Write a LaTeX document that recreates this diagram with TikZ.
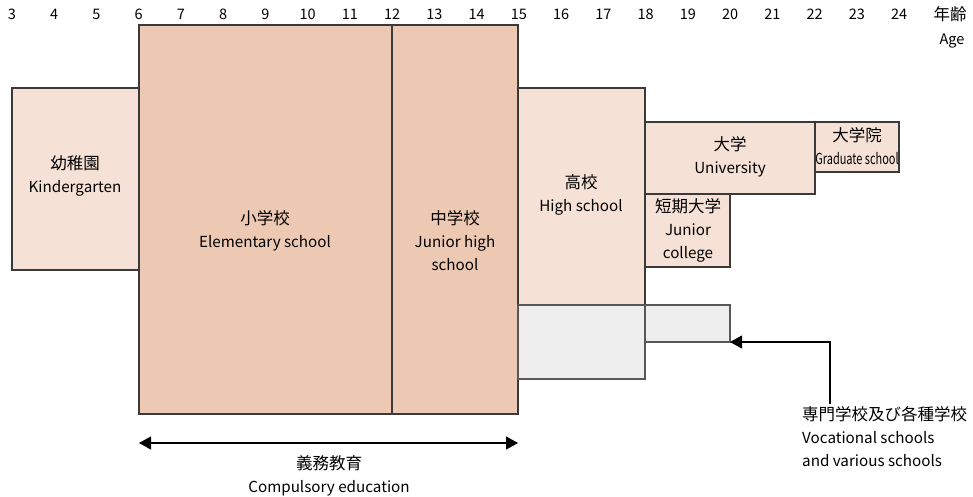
\documentclass[tikz,border=0pt]{standalone}
\usepackage{fontspec}
\usepackage{graphicx}
\setmainfont{Noto Sans CJK JP}
\usetikzlibrary{arrows.meta}
\definecolor{lightpeach}{HTML}{F6E1D6}
\definecolor{darkpeach}{HTML}{EDC9B3}
\definecolor{greybox}{HTML}{EEEEEE}
\definecolor{edge}{HTML}{3A3A3A}
\newcommand\jpsz{\fontsize{16.5}{23}\selectfont}
\tikzset{
  box/.style={draw=edge, line width=1.1pt, anchor=north west, inner sep=0pt, outer sep=0pt},
  light/.style={box, fill=lightpeach},
  dark/.style={box, fill=darkpeach},
  grey/.style={box, fill=greybox, draw=edge!85},
  lbl/.style={align=center, inner sep=0pt, font=\fontsize{15.2}{23}\selectfont},
  agelbl/.style={inner sep=0pt, font=\fontsize{14.5}{18}\selectfont},
  conn/.style={line width=1.1pt, draw=black},
  tip/.style={-{Triangle[length=12pt,width=13pt]}},
  bitip/.style={{Triangle[length=12pt,width=13pt]}-{Triangle[length=12pt,width=13pt]}}
}
\begin{document}
\begin{tikzpicture}[x=1pt,y=-1pt]
\useasboundingbox (0,0) rectangle (973,497);
% age axis
\foreach \a in {3,...,24}{
  \node[agelbl] (age\a) at ({12+(\a-3)*42.24},14) {\a};
}
\node[agelbl] (agej) at (950,14) {\jpsz 年齢};
\node[agelbl] (agee) at (952,41) {Age};
% boxes
\node[light, minimum width=127pt, minimum height=182pt] (kg) at (12,88) {};
\node[dark, minimum width=253pt, minimum height=389pt] (el) at (139,25) {};
\node[dark, minimum width=126pt, minimum height=389pt] (jh) at (392,25) {};
\node[light, minimum width=127pt, minimum height=217pt] (hs) at (518,88) {};
\node[grey, minimum width=127pt, minimum height=74pt] (voc1) at (518,305) {};
\node[grey, minimum width=85pt, minimum height=37pt] (voc2) at (645,305) {};
\node[light, minimum width=170pt, minimum height=72pt] (uni) at (645,122) {};
\node[light, minimum width=84pt, minimum height=50pt] (grad) at (815,122) {};
\node[light, minimum width=85pt, minimum height=73pt] (jc) at (645,194) {};
% labels
\node[lbl] (kgt) at (75,176) {{\jpsz 幼稚園}\\Kindergarten};
\node[lbl] (elt) at (265,231) {{\jpsz 小学校}\\Elementary school};
\node[lbl] (jht) at (455,241) {{\jpsz 中学校}\\Junior high\\school};
\node[lbl] (hst) at (581,195) {{\jpsz 高校}\\High school};
\node[lbl] (unit) at (730,157) {{\jpsz 大学}\\University};
\node[lbl] (gradt) at (857,146) {{\jpsz 大学院}\\\scalebox{0.72}[1]{Graduate school}};
\node[lbl] (jct) at (688,230) {{\jpsz 短期大学}\\Junior\\college};
% compulsory education
\coordinate (cl) at (139,443);
\coordinate (cr) at (518,443);
\draw[conn, bitip] (cl) -- (cr);
\node[lbl] (cet) at (329,476) {{\jpsz 義務教育}\\Compulsory education};
% vocational
\coordinate (vs) at (830,404);
\draw[conn, tip] (vs) |- (voc2.south east);
\node[lbl, align=left, anchor=north west] (vt) at (802,406) {{\jpsz 専門学校及び各種学校}\\Vocational schools\\and various schools};
\end{tikzpicture}
\end{document}
